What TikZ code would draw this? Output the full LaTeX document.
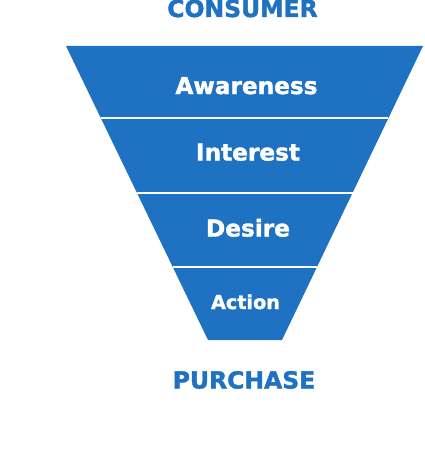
\documentclass[tikz,border=0pt]{standalone}
\usepackage{fontspec}
\setmainfont{DejaVu Sans}
\newfontfamily\heavyfont{DejaVu Sans Bold}[FakeBold=1.6]
\usetikzlibrary{calc}
\definecolor{funnelblue}{HTML}{1F72C2}
\begin{document}
\begin{tikzpicture}[x=1pt,y=-1pt,
  band/.style={text=white,font=\heavyfont\fontsize{23.2}{23.2}\selectfont,anchor=base,inner sep=0pt},
  heading/.style={text=funnelblue,font=\heavyfont\fontsize{23.5}{23.5}\selectfont,anchor=base,inner sep=0pt},
  sep/.style={white,line width=2pt}]
\useasboundingbox (0,0) rectangle (424,460);
\coordinate (TL) at (66,46);
\coordinate (TR) at (423,46);
\coordinate (BL) at (208,340);
\coordinate (BR) at (282,340);
\fill[funnelblue] (TL) -- (TR) -- (BR) -- (BL) -- cycle;
\foreach \t in {0.2449,0.5,0.7517}{
  \draw[sep] ($(TL)!\t!(BL)$) -- ($(TR)!\t!(BR)$);
}
\node[heading] (consumer) at (242.5,17) {CONSUMER};
\node[band] (awareness) at (246.5,94) {Awareness};
\node[band] (interest) at (248,160.5) {Interest};
\node[band] (desire) at (248,236.5) {Desire};
\node[band,font=\heavyfont\fontsize{19.2}{19.2}\selectfont] (action) at (245.5,309) {Action};
\node[heading] (purchase) at (244,388.5) {PURCHASE};
\end{tikzpicture}
\end{document}
